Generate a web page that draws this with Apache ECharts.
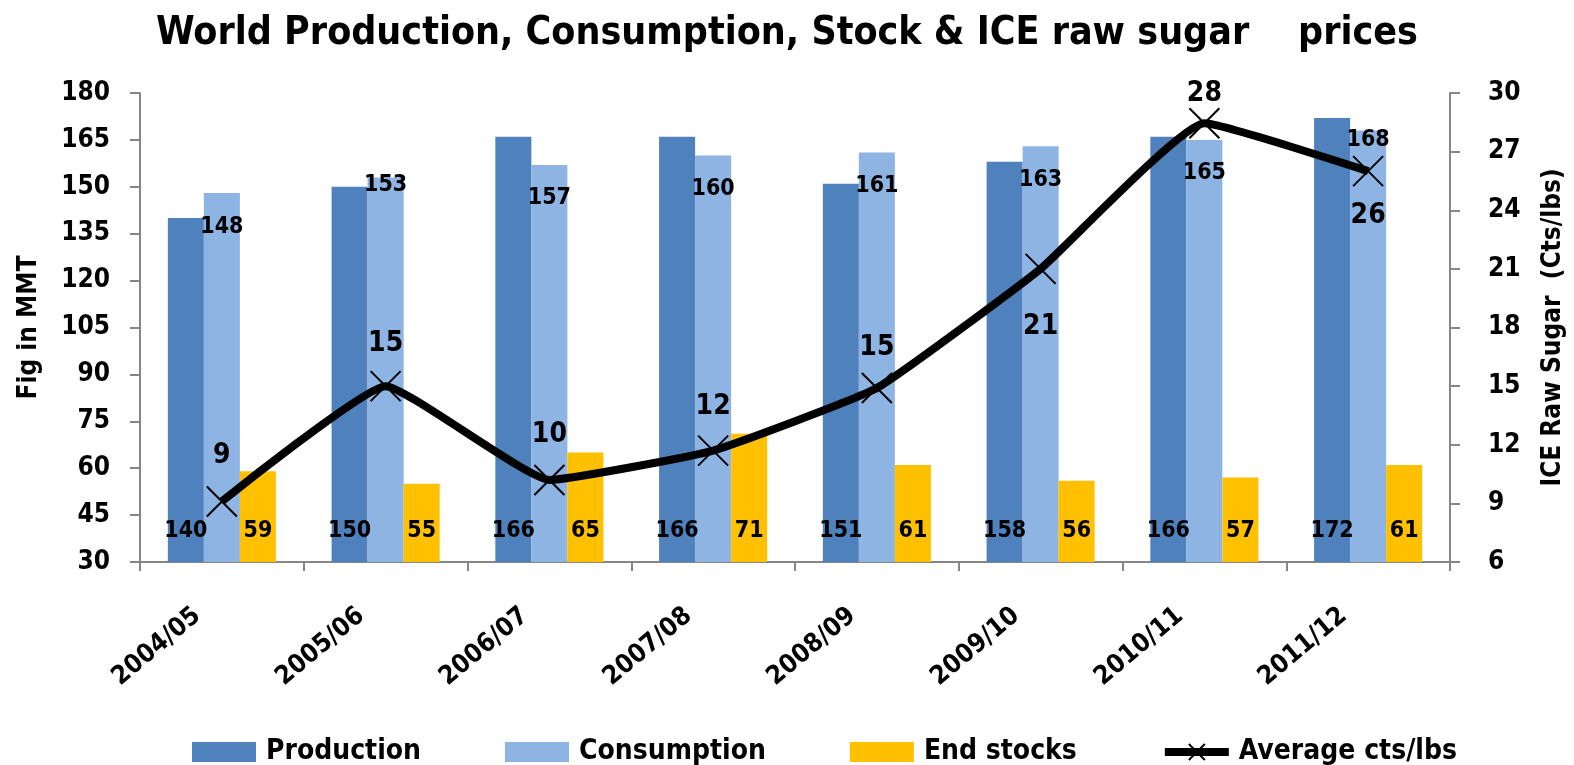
<!DOCTYPE html>
<html>
<head>
<meta charset="utf-8">
<script src="https://cdn.jsdelivr.net/npm/echarts@6/dist/echarts.min.js"></script>
<style>
  html, body { margin: 0; padding: 0; background: #fff; }
  #chart { width: 1574px; height: 765px; }
</style>
</head>
<body>
<div id="chart"></div>
<script>
const seasons = ['2004/05', '2005/06', '2006/07', '2007/08', '2008/09', '2009/10', '2010/11', '2011/12'];
const production = [140, 150, 166, 166, 151, 158, 166, 172];
const consumption = [148, 153, 157, 160, 161, 163, 165, 168];
const endStocks = [59, 55, 65, 71, 61, 56, 57, 61];
const avgPrice = [9.1, 15.0, 10.2, 11.7, 14.9, 21.0, 28.45, 26.0];
const leftTicks = { min: 30, max: 180, step: 15 };
const rightTicks = { min: 6, max: 30, step: 3 };

// where the price labels sit (above / below the marker)
const priceLabelPos = ['top', 'top', 'top', 'top', 'top', 'bottom', 'top', 'bottom'];
const priceLabelDist = [16, 12, 15, 14, 10, 28, 0, 15];
const consumLabelShift = [22, -4, 22, 22, 22, 22, 22, -2];

const FONT = "'Liberation Sans Narrow', 'DejaVu Sans Condensed', 'Liberation Sans', sans-serif";
const AXIS_COLOR = '#868686';

const option = {
  animation: false,
  textStyle: { fontFamily: FONT, color: '#000' },
  title: {
    text: 'World Production, Consumption, Stock & ICE raw sugar    prices',
    left: 'center',
    top: 9,
    textStyle: { fontFamily: FONT, fontWeight: 'bold', fontSize: 39, color: '#000' }
  },
  legend: {
    bottom: -1,
    left: 192,
    padding: 0,
    itemWidth: 64,
    itemHeight: 20,
    itemGap: 84,
    textStyle: { fontFamily: FONT, fontWeight: 'bold', fontSize: 28, color: '#000', padding: [0, 0, 0, 5] },
    data: [
      { name: 'Production', icon: 'rect' },
      { name: 'Consumption', icon: 'rect' },
      { name: 'End stocks', icon: 'rect' },
      { name: 'Average cts/lbs', lineStyle: { width: 8, color: '#000' } }
    ]
  },
  grid: { left: 140, right: 123, top: 93, bottom: 203, containLabel: false },
  xAxis: {
    type: 'category',
    data: seasons,
    axisLine: { lineStyle: { color: AXIS_COLOR, width: 2 } },
    axisTick: { show: true, length: 9, lineStyle: { color: AXIS_COLOR, width: 2 } },
    axisLabel: {
      rotate: 40,
      margin: 30,
      padding: [0, 32, 0, 0],
      fontSize: 26,
      fontWeight: 'bold',
      color: '#000',
      fontFamily: FONT
    }
  },
  yAxis: [
    {
      type: 'value',
      min: leftTicks.min,
      max: leftTicks.max,
      interval: leftTicks.step,
      name: 'Fig in MMT',
      nameLocation: 'middle',
      nameGap: 98,
      nameTextStyle: { fontFamily: FONT, fontWeight: 'bold', fontSize: 26, color: '#000' },
      axisLine: { show: true, lineStyle: { color: AXIS_COLOR, width: 2 } },
      axisTick: { show: true, length: 10, lineStyle: { color: AXIS_COLOR, width: 2 } },
      axisLabel: { fontSize: 26, fontWeight: 'bold', color: '#000', margin: 30, fontFamily: FONT },
      splitLine: { show: false }
    },
    {
      type: 'value',
      min: rightTicks.min,
      max: rightTicks.max,
      interval: rightTicks.step,
      name: 'ICE Raw Sugar  (Cts/lbs)',
      nameLocation: 'middle',
      nameRotate: 90,
      nameGap: 90,
      nameTextStyle: { fontFamily: FONT, fontWeight: 'bold', fontSize: 26, color: '#000' },
      axisLine: { show: true, lineStyle: { color: AXIS_COLOR, width: 2 } },
      axisTick: { show: true, length: 10, lineStyle: { color: AXIS_COLOR, width: 2 } },
      axisLabel: { fontSize: 26, fontWeight: 'bold', color: '#000', margin: 38, fontFamily: FONT },
      splitLine: { show: false }
    }
  ],
  series: [
    {
      name: 'Production',
      type: 'bar',
      data: production,
      barGap: '0%',
      barCategoryGap: '34%',
      itemStyle: { color: '#4F81BD' },
      label: {
        show: true,
        position: 'insideBottom',
        distance: 19,
        fontSize: 23,
        fontWeight: 'bold',
        color: '#000',
        fontFamily: FONT
      }
    },
    {
      name: 'Consumption',
      type: 'bar',
      data: consumption.map((v, i) => ({
        value: v,
        label: { offset: [0, consumLabelShift[i]] }
      })),
      itemStyle: { color: '#8EB4E3' },
      label: {
        show: true,
        position: 'insideTop',
        distance: 0,
        fontSize: 23,
        fontWeight: 'bold',
        color: '#000',
        fontFamily: FONT
      }
    },
    {
      name: 'End stocks',
      type: 'bar',
      data: endStocks,
      itemStyle: { color: '#FFC000' },
      label: {
        show: true,
        position: 'insideBottom',
        distance: 19,
        fontSize: 23,
        fontWeight: 'bold',
        color: '#000',
        fontFamily: FONT
      }
    },
    {
      name: 'Average cts/lbs',
      type: 'line',
      yAxisIndex: 1,
      smooth: 0.12,
      symbol: 'path://M0,0 L10,10 M10,0 L0,10',
      symbolSize: 30,
      itemStyle: { color: '#000', borderColor: '#000', borderWidth: 2 },
      lineStyle: { color: '#000', width: 8 },
      data: avgPrice.map((v, i) => ({
        value: v,
        label: { position: priceLabelPos[i], distance: priceLabelDist[i] }
      })),
      label: {
        show: true,
        fontSize: 28,
        fontWeight: 'bold',
        color: '#000',
        fontFamily: FONT,
        formatter: p => Math.round(p.value)
      },
      z: 5
    }
  ]
};

const chart = echarts.init(document.getElementById('chart'));
chart.setOption(option);
</script>
</body>
</html>
